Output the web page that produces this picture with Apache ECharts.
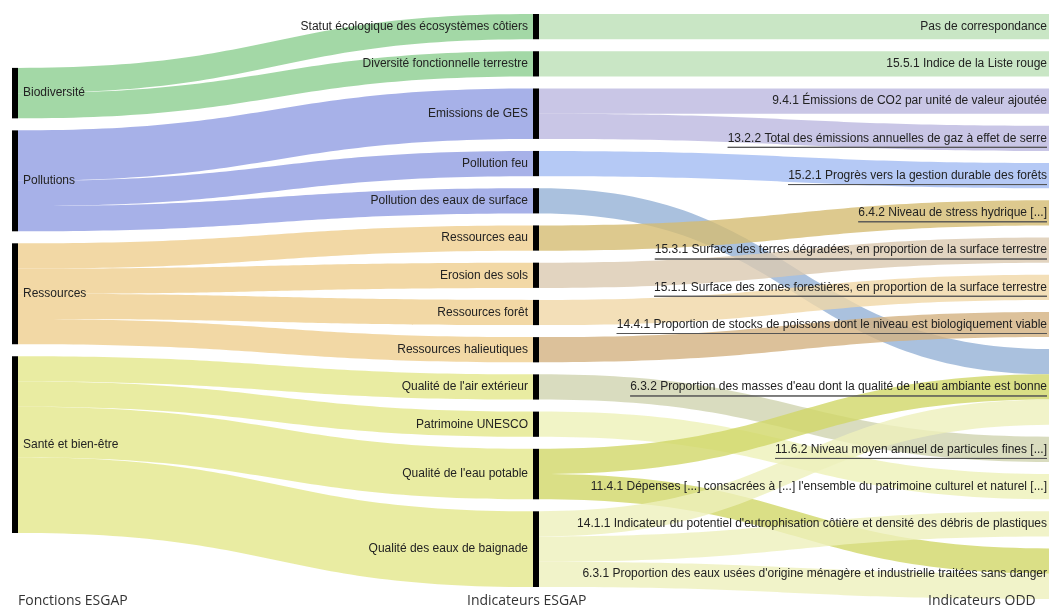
<!DOCTYPE html>
<html><head><meta charset="utf-8">
<script src="https://cdn.jsdelivr.net/npm/echarts@6/dist/echarts.min.js"></script>
<style>html,body{margin:0;padding:0;background:#fff}#c{width:1049px;height:611px}</style>
</head><body><div id="c"></div><script>
// ---------- DATA ----------
const functionsESGAP = ['Biodiversité', 'Pollutions', 'Ressources', 'Santé et bien-être'];
const indicatorsESGAP = [
  'Statut écologique des écosystèmes côtiers',
  'Diversité fonctionnelle terrestre',
  'Emissions de GES',
  'Pollution feu',
  'Pollution des eaux de surface',
  'Ressources eau',
  'Erosion des sols',
  'Ressources forêt',
  'Ressources halieutiques',
  "Qualité de l'air extérieur",
  'Patrimoine UNESCO',
  "Qualité de l'eau potable",
  'Qualité des eaux de baignade'
];
const indicatorsODD = [
  'Pas de correspondance',
  '15.5.1 Indice de la Liste rouge',
  '9.4.1 Émissions de CO2 par unité de valeur ajoutée',
  '13.2.2 Total des émissions annuelles de gaz à effet de serre',
  '15.2.1 Progrès vers la gestion durable des forêts',
  '6.4.2 Niveau de stress hydrique [...]',
  '15.3.1 Surface des terres dégradées, en proportion de la surface terrestre',
  '15.1.1 Surface des zones forestières, en proportion de la surface terrestre',
  '14.4.1 Proportion de stocks de poissons dont le niveau est biologiquement viable',
  "6.3.2 Proportion des masses d'eau dont la qualité de l'eau ambiante est bonne",
  '11.6.2 Niveau moyen annuel de particules fines [...]',
  "11.4.1 Dépenses [...] consacrées à [...] l'ensemble du patrimoine culturel et naturel [...]",
  "14.1.1 Indicateur du potentiel d'eutrophisation côtière et densité des débris de plastiques",
  "6.3.1 Proportion des eaux usées d'origine ménagère et industrielle traitées sans danger"
];
// [source, target, value]
const linksFunctionToESGAP = [
  ['Biodiversité', 'Statut écologique des écosystèmes côtiers', 1],
  ['Biodiversité', 'Diversité fonctionnelle terrestre', 1],
  ['Pollutions', 'Emissions de GES', 2],
  ['Pollutions', 'Pollution feu', 1],
  ['Pollutions', 'Pollution des eaux de surface', 1],
  ['Ressources', 'Ressources eau', 1],
  ['Ressources', 'Erosion des sols', 1],
  ['Ressources', 'Ressources forêt', 1],
  ['Ressources', 'Ressources halieutiques', 1],
  ['Santé et bien-être', "Qualité de l'air extérieur", 1],
  ['Santé et bien-être', 'Patrimoine UNESCO', 1],
  ['Santé et bien-être', "Qualité de l'eau potable", 2],
  ['Santé et bien-être', 'Qualité des eaux de baignade', 3]
];
const linksESGAPToODD = [
  ['Statut écologique des écosystèmes côtiers', indicatorsODD[0], 1],
  ['Diversité fonctionnelle terrestre', indicatorsODD[1], 1],
  ['Emissions de GES', indicatorsODD[2], 1],
  ['Emissions de GES', indicatorsODD[3], 1],
  ['Pollution feu', indicatorsODD[4], 1],
  ['Pollution des eaux de surface', indicatorsODD[9], 1],
  ['Ressources eau', indicatorsODD[5], 1],
  ['Erosion des sols', indicatorsODD[6], 1],
  ['Ressources forêt', indicatorsODD[7], 1],
  ['Ressources halieutiques', indicatorsODD[8], 1],
  ["Qualité de l'air extérieur", indicatorsODD[10], 1],
  ['Patrimoine UNESCO', indicatorsODD[11], 1],
  ["Qualité de l'eau potable", indicatorsODD[9], 1],
  ["Qualité de l'eau potable", indicatorsODD[13], 1],
  ['Qualité des eaux de baignade', indicatorsODD[9], 1],
  ['Qualité des eaux de baignade', indicatorsODD[12], 1],
  ['Qualité des eaux de baignade', indicatorsODD[13], 1]
];
const columnTitles = ['Fonctions ESGAP', 'Indicateurs ESGAP', 'Indicateurs ODD'];

// ---------- STYLE ----------
const underlined = new Set([3, 4, 5, 6, 7, 8, 9, 10].map(i => indicatorsODD[i]));
const flowColor = {
  'Biodiversité': '#a3d8a6', 'Pollutions': '#a7b1e8', 'Ressources': '#f2d8a5', 'Santé et bien-être': '#e9eca2',
  'Statut écologique des écosystèmes côtiers': '#c9e6c5',
  'Diversité fonctionnelle terrestre': '#c9e6c5',
  'Emissions de GES': '#c9c6e6',
  'Pollution feu': '#b5c9f5',
  'Pollution des eaux de surface': '#aac1de',
  'Ressources eau': '#ddc98e',
  'Erosion des sols': '#e2d4c0',
  'Ressources forêt': '#f3dfb8',
  'Ressources halieutiques': '#dcc19a',
  "Qualité de l'air extérieur": '#d9dcbf',
  'Patrimoine UNESCO': '#f1f4c6',
  "Qualité de l'eau potable": '#dadf86',
  'Qualité des eaux de baignade': '#f1f3c9'
};
const ALPHA = 0.8;
function overWhite(hex) {
  const v = [1, 3, 5].map(i => parseInt(hex.substr(i, 2), 16));
  const c = v.map(o => Math.max(0, Math.round((o - 255 * (1 - ALPHA)) / ALPHA)));
  return 'rgba(' + c.join(',') + ',' + ALPHA + ')';
}
const FONT = '"Liberation Sans", Arial, sans-serif';

// ---------- BUILD ----------
const nodes = [];
// invisible layout padding at top of the first column (vertical offset like the reference)
nodes.push({ name: '\u200b', value: 1.66, depth: 0, itemStyle: { color: 'rgba(0,0,0,0)' }, label: { show: false } });
functionsESGAP.forEach(n => nodes.push({ name: n, label: { position: 'right', distance: 5 } }));
indicatorsESGAP.forEach(n => nodes.push({ name: n, label: { position: 'left', distance: 5 } }));
indicatorsODD.forEach(n => nodes.push({
  name: n,
  label: { position: 'left', distance: 7, formatter: underlined.has(n) ? '{p|}\n{t|{b}}\n{u|}' : '{b}' }
}));
const links = linksFunctionToESGAP.concat(linksESGAPToODD).map(([s, t, v]) => ({
  source: s, target: t, value: v, lineStyle: { color: overWhite(flowColor[s]), opacity: 1 }
}));

const chart = echarts.init(document.getElementById('c'));
chart.setOption({
  animation: false,
  backgroundColor: '#fff',
  title: columnTitles.map((t, i) => ({
    text: t, top: 594, left: [18, 467, 928][i], padding: 0,
    textStyle: { fontFamily: '"Open Sans", sans-serif', fontSize: 14, fontWeight: 'normal', color: '#333' }
  })),
  series: [{
    type: 'sankey',
    left: 12, top: 14, width: 1048, height: 585,
    nodeWidth: 6, nodeGap: 12,
    layoutIterations: 0, nodeAlign: 'left', draggable: false,
    emphasis: { disabled: true },
    itemStyle: { color: '#000', borderWidth: 0 },
    lineStyle: { curveness: 0.5, opacity: 1 },
    label: {
      fontFamily: FONT, fontSize: 12, color: '#222',
      rich: {
        p: { height: 4, lineHeight: 4 },
        t: { fontFamily: FONT, fontSize: 12, color: '#222', lineHeight: 14 },
        u: { width: '100%', height: 0, lineHeight: 4, borderWidth: 1, borderColor: '#555' }
      }
    },
    data: nodes,
    links: links
  }]
});
</script></body></html>
